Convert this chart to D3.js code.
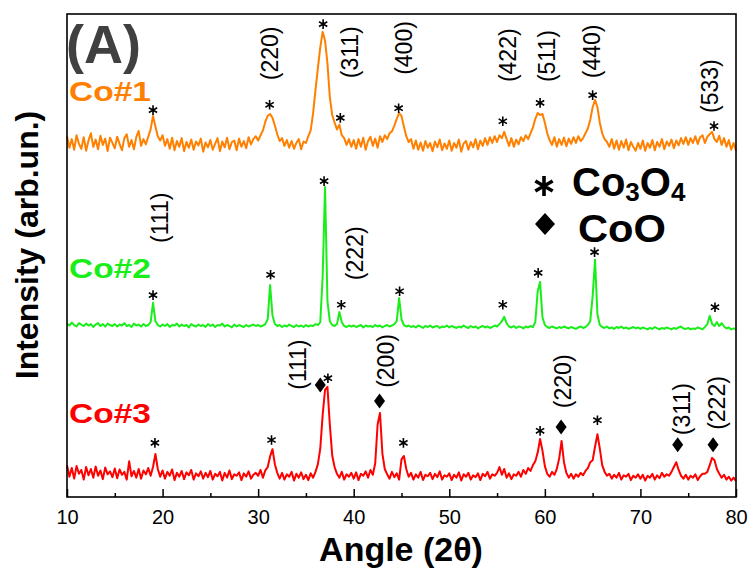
<!DOCTYPE html>
<html>
<head>
<meta charset="utf-8">
<script src="https://cdn.jsdelivr.net/npm/d3@7"></script>
<style>
  body { margin: 0; background: #fff; }
  svg { display: block; font-family: 'Liberation Sans', Arial, sans-serif; }
</style>
</head>
<body>
<div id="chart"></div>
<script>
// 2theta scan: start / step of the recorded grid
const angleStart = 10;
const angleStep = 0.25;

const majorTicks = [10, 20, 30, 40, 50, 60, 70, 80];
const minorTicks = [15, 25, 35, 45, 55, 65, 75];

// intensities (counts, arb.) one row = 5 degrees
const co1Values = [
  64, 40, 58, 36, 66, 48, 38, 62, 34, 55, 70, 42, 57, 37, 65, 46, 59, 33, 61, 50,
  39, 63, 48, 35, 60, 68, 42, 56, 37, 62, 75, 44, 58, 47, 63, 78, 106, 84, 64, 55,
  66, 44, 58, 38, 61, 35, 54, 42, 60, 33, 52, 40, 57, 36, 53, 45, 59, 32, 51, 41,
  56, 36, 48, 60, 33, 53, 41, 61, 37, 52, 55, 35, 59, 42, 54, 39, 62, 47, 58, 64,
  55, 66, 76, 94, 106, 110, 102, 86, 68, 54, 60, 44, 56, 40, 54, 38, 50, 58, 37, 53,
  50, 64, 76, 112, 160, 205, 248, 280, 262, 215, 145, 108, 92, 78, 88, 66, 60, 46, 58, 42,
  56, 38, 58, 42, 61, 36, 54, 63, 44, 59, 40, 64, 52, 66, 58, 70, 74, 86, 100, 112,
  106, 84, 64, 52, 58, 38, 55, 36, 51, 34, 54, 40, 50, 33, 53, 41, 57, 35, 49, 38,
  55, 34, 50, 40, 57, 32, 49, 54, 36, 52, 41, 58, 37, 55, 44, 60, 46, 62, 50, 64,
  52, 66, 60, 73, 58, 44, 60, 42, 57, 47, 62, 54, 66, 58, 70, 82, 100, 112, 108, 110,
  92, 70, 56, 46, 62, 42, 58, 46, 61, 43, 59, 48, 62, 50, 64, 54, 60, 70, 80, 98,
  124, 139, 124, 92, 70, 58, 52, 42, 58, 38, 55, 36, 54, 40, 57, 35, 52, 42, 34, 50,
  38, 55, 34, 50, 40, 56, 35, 52, 42, 58, 37, 53, 44, 57, 39, 55, 45, 60, 48, 62,
  46, 60, 50, 64, 48, 62, 66, 50, 63, 68, 73, 58, 52, 65, 46, 60, 42, 56, 36, 50,
  34
];

const co2Values = [
  53, 49, 55, 50, 47, 54, 51, 48, 53, 49, 52, 46, 51, 54, 48, 52, 47, 53, 50, 48,
  52, 47, 51, 49, 54, 48, 50, 46, 53, 49, 51, 47, 52, 48, 50, 56, 96, 58, 50, 47,
  51, 48, 52, 46, 50, 49, 53, 47, 51, 48, 50, 45, 52, 49, 47, 51, 48, 50, 46, 52,
  48, 51, 46, 50, 49, 53, 47, 50, 48, 45, 51, 47, 50, 48, 46, 50, 47, 49, 51, 48,
  50, 47, 49, 52, 62, 133, 70, 52, 48, 50, 46, 49, 47, 51, 48, 46, 50, 47, 49, 46,
  50, 47, 49, 48, 52, 50, 56, 150, 336, 100, 58, 50, 48, 52, 77, 56, 48, 46, 49, 47,
  49, 46, 48, 50, 45, 49, 47, 48, 46, 50, 47, 49, 45, 48, 50, 47, 49, 52, 58, 106,
  62, 50, 47, 49, 46, 48, 45, 49, 47, 44, 48, 46, 49, 45, 47, 48, 44, 47, 46, 49,
  45, 48, 46, 44, 47, 45, 49, 46, 44, 48, 45, 47, 43, 46, 48, 45, 47, 44, 46, 49,
  47, 52, 58, 67, 54, 47, 45, 48, 44, 47, 46, 43, 47, 45, 48, 46, 56, 120, 139, 66,
  50, 46, 44, 47, 45, 43, 46, 44, 47, 45, 43, 46, 44, 42, 45, 47, 44, 46, 50, 58,
  110, 185, 72, 50, 46, 44, 47, 43, 45, 42, 46, 44, 47, 43, 45, 42, 44, 46, 43, 45,
  42, 45, 43, 41, 44, 42, 46, 43, 41, 44, 42, 45, 43, 41, 44, 42, 45, 47, 43, 42,
  44, 41, 43, 42, 45, 43, 41, 46, 52, 69, 52, 48, 56, 48, 54, 47, 43, 45, 41, 43,
  42
];

const co3Values = [
  66, 42, 60, 38, 64, 48, 56, 36, 62, 45, 58, 40, 63, 44, 55, 37, 61, 47, 53, 41,
  59, 39, 57, 46, 52, 36, 74, 43, 54, 40, 58, 38, 55, 47, 60, 44, 62, 89, 58, 42,
  55, 38, 52, 44, 57, 35, 50, 42, 54, 37, 51, 45, 56, 36, 49, 43, 53, 38, 50, 41,
  54, 36, 48, 43, 52, 34, 50, 40, 55, 37, 47, 44, 51, 35, 49, 42, 53, 38, 46, 50,
  44, 56, 40, 55, 62, 84, 99, 68, 50, 38, 50, 36, 47, 42, 52, 34, 48, 40, 51, 37,
  46, 35, 49, 40, 52, 68, 100, 170, 222, 228, 150, 86, 62, 48, 40, 52, 36, 47, 42, 50,
  38, 51, 35, 48, 44, 53, 40, 56, 46, 70, 150, 174, 90, 58, 47, 38, 52, 41, 49, 36,
  78, 85, 58, 42, 50, 36, 47, 40, 52, 35, 46, 43, 50, 37, 48, 41, 53, 36, 45, 42,
  49, 35, 46, 40, 51, 34, 47, 42, 50, 36, 45, 41, 49, 35, 48, 43, 52, 38, 47, 44,
  50, 62, 46, 58, 40, 49, 37, 47, 44, 52, 42, 56, 48, 60, 54, 66, 74, 92, 120, 96,
  64, 48, 42, 52, 46, 58, 80, 116, 72, 50, 40, 48, 38, 47, 42, 50, 45, 54, 60, 72,
  76, 104, 130, 100, 66, 52, 44, 48, 38, 46, 40, 50, 36, 45, 42, 48, 35, 44, 40, 47,
  38, 46, 34, 44, 40, 48, 36, 45, 39, 50, 42, 47, 44, 52, 62, 72, 56, 44, 38, 46,
  36, 44, 40, 47, 35, 43, 48, 48, 52, 66, 81, 76, 58, 48, 40, 46, 36, 42, 34, 40,
  33
];

const seriesNames = ['Co#1', 'Co#2', 'Co#3'];
const seriesColors = ['#ff8000', '#1aee1a', '#ff0000'];
const seriesOffsets = [683, 306, 0];

// Co3O4 (*) reflections: [angle, intensity of the mark]
const co1Spinel = [[19.0, 118], [31.2, 129], [36.8, 296], [38.6, 102], [44.7, 122],
  [55.6, 95], [59.5, 133], [65.0, 149], [77.7, 85]];
const co2Spinel = [[19.0, 112], [31.3, 154], [36.9, 348], [38.7, 92], [44.8, 120],
  [55.6, 92], [59.3, 158], [65.2, 201], [77.8, 87]];
const co3Spinel = [[19.2, 112], [31.4, 118], [37.3, 246], [45.2, 112], [59.5, 137], [65.5, 159]];

// CoO (diamond) reflections
const co3Rocksalt = [[36.5, 232], [42.7, 199], [61.7, 145], [73.9, 108], [77.6, 108]];

// Miller indices: [angle, intensity at the start of the label, text]
const co1Planes = [[31.2, 180, '(220)'], [39.6, 184, '(311)'], [45.2, 191, '(400)'],
  [56.1, 176, '(422)'], [60.2, 176, '(511)'], [64.9, 184, '(440)'], [77.3, 112, '(533)']];
const co2Planes = [[19.7, 220, '(111)'], [40.1, 143, '(222)']];
const co3Planes = [[34.1, 222, '(111)'], [43.4, 226, '(200)'], [61.9, 184, '(220)'],
  [74.3, 128, '(311)'], [78.0, 139, '(222)']];

const nameLevels = [137, 147, 153];

class Chart {
  constructor(target) {
    this.container = target;

    this.setDimensions();
    this.drawScene();
    this.setScales();
  }

  setDimensions() {
    this.dimensions = { width: 749, height: 569 };
    this.margins = { top: 14, right: 13, bottom: 72, left: 67 };
  }

  drawScene() {
    this.scene = d3
      .select(this.container)
      .append('svg')
      .attr('width', this.dimensions.width)
      .attr('height', this.dimensions.height);
  }

  setScales() {
    this.xScale = d3.scaleLinear()
      .domain([10, 80])
      .range([this.margins.left, this.dimensions.width - this.margins.right]);

    this.yScale = d3.scaleLinear()
      .domain([0, 1000])
      .range([this.dimensions.height - this.margins.bottom, this.margins.top]);
  }

  draw() {
    const series = seriesNames.map((name, i) => ({
      name,
      color: seriesColors[i],
      offset: seriesOffsets[i],
      values: [co1Values, co2Values, co3Values][i],
      spinel: [co1Spinel, co2Spinel, co3Spinel][i],
      rocksalt: i === 2 ? co3Rocksalt : [],
      planes: [co1Planes, co2Planes, co3Planes][i],
      nameLevel: nameLevels[i],
    }));

    series.forEach(s => this.drawPattern(s));
    series.forEach(s => this.drawMarks(s));
    this.drawFrame();
    this.drawAxes();
    this.drawTexts();
    this.drawLegend();
  }

  drawPattern(s) {
    const line = d3.line()
      .x((d, i) => this.xScale(angleStart + i * angleStep))
      .y(d => this.yScale(d + s.offset));

    this.scene.append('path')
      .datum(s.values)
      .attr('fill', 'none')
      .attr('stroke', s.color)
      .attr('stroke-width', 2)
      .attr('stroke-linejoin', 'round')
      .attr('d', line);
  }

  asterisk(r) {
    const c = r * Math.cos(Math.PI / 6);
    const h = r * Math.sin(Math.PI / 6);
    return `M0,${-r}L0,${r}M${-c},${-h}L${c},${h}M${-c},${h}L${c},${-h}`;
  }

  diamond(w, h) {
    return `M0,${-h}L${w},0L0,${h}L${-w},0Z`;
  }

  drawMarks(s) {
    const g = this.scene.append('g').attr('class', 'marks');

    g.selectAll('.star')
      .data(s.spinel)
      .join('path')
      .attr('class', 'star')
      .attr('transform', d => `translate(${this.xScale(d[0])},${this.yScale(d[1] + s.offset)})`)
      .attr('d', this.asterisk(4.8))
      .attr('stroke', '#000')
      .attr('stroke-width', 1.6);

    g.selectAll('.dia')
      .data(s.rocksalt)
      .join('path')
      .attr('class', 'dia')
      .attr('transform', d => `translate(${this.xScale(d[0])},${this.yScale(d[1] + s.offset)})`)
      .attr('d', this.diamond(5.5, 7.5))
      .attr('fill', '#000');

    g.selectAll('.plane')
      .data(s.planes)
      .join('text')
      .attr('class', 'plane')
      .attr('transform', d => `translate(${this.xScale(d[0])},${this.yScale(d[1] + s.offset)}) rotate(-90)`)
      .attr('dy', '0.36em')
      .attr('font-size', 23)
      .attr('fill', '#000')
      .text(d => d[2]);

    this.scene.append('text')
      .attr('x', this.margins.left + 2)
      .attr('y', this.yScale(s.nameLevel + s.offset))
      .attr('font-size', 28)
      .attr('font-weight', 'bold')
      .attr('fill', s.color)
      .attr('textLength', 82)
      .attr('lengthAdjust', 'spacingAndGlyphs')
      .text(s.name);
  }

  drawFrame() {
    const { width, height } = this.dimensions;
    const m = this.margins;
    this.scene.append('rect')
      .attr('x', m.left)
      .attr('y', m.top)
      .attr('width', width - m.left - m.right)
      .attr('height', height - m.top - m.bottom)
      .attr('fill', 'none')
      .attr('stroke', '#000')
      .attr('stroke-width', 1.6);
  }

  drawAxes() {
    const base = this.dimensions.height - this.margins.bottom;

    const bottom = d3.axisBottom(this.xScale)
      .tickValues(majorTicks)
      .tickFormat(d3.format('d'))
      .tickSizeInner(-8)
      .tickSizeOuter(0)
      .tickPadding(13);

    const minor = d3.axisBottom(this.xScale)
      .tickValues(minorTicks)
      .tickFormat('')
      .tickSizeInner(-4)
      .tickSizeOuter(0);

    const gb = this.scene.append('g')
      .attr('transform', `translate(0,${base})`)
      .call(bottom);
    gb.select('.domain').remove();
    gb.selectAll('line').attr('stroke-width', 1.5);
    gb.selectAll('text')
      .attr('font-size', 20)
      .attr('font-family', "'Liberation Sans', Arial, sans-serif")
      .attr('fill', '#000');

    const gm = this.scene.append('g')
      .attr('transform', `translate(0,${base})`)
      .call(minor);
    gm.select('.domain').remove();
    gm.selectAll('line').attr('stroke-width', 1.5);
  }

  drawTexts() {
    this.scene.append('text')
      .attr('x', 401)
      .attr('y', 561)
      .attr('text-anchor', 'middle')
      .attr('font-size', 34)
      .attr('font-weight', 'bold')
      .text('Angle (2θ)');

    this.scene.append('text')
      .attr('transform', 'translate(38,245) rotate(-90)')
      .attr('text-anchor', 'middle')
      .attr('font-size', 32)
      .attr('font-weight', 'bold')
      .text('Intensity (arb.un.)');

    this.scene.append('text')
      .attr('x', 66)
      .attr('y', 63)
      .attr('font-size', 54)
      .attr('font-weight', 'bold')
      .attr('fill', '#404040')
      .text('(A)');
  }

  drawLegend() {
    this.scene.append('path')
      .attr('transform', 'translate(544,186)')
      .attr('d', this.asterisk(10))
      .attr('stroke', '#000')
      .attr('stroke-width', 3.6);

    const t = this.scene.append('text')
      .attr('x', 572)
      .attr('y', 196)
      .attr('font-size', 40)
      .attr('font-weight', 'bold');
    t.append('tspan').text('Co');
    t.append('tspan').attr('font-size', 26).attr('dy', 5).text('3');
    t.append('tspan').attr('dy', -5).text('O');
    t.append('tspan').attr('font-size', 26).attr('dy', 5).text('4');

    this.scene.append('path')
      .attr('transform', 'translate(545,224)')
      .attr('d', this.diamond(10, 11))
      .attr('fill', '#000');

    this.scene.append('text')
      .attr('x', 578)
      .attr('y', 242)
      .attr('font-size', 38)
      .attr('textLength', 88)
      .attr('lengthAdjust', 'spacingAndGlyphs')
      .attr('font-weight', 'bold')
      .text('CoO');
  }
}

const chart = new Chart('#chart');
chart.draw();
</script>
</body>
</html>
